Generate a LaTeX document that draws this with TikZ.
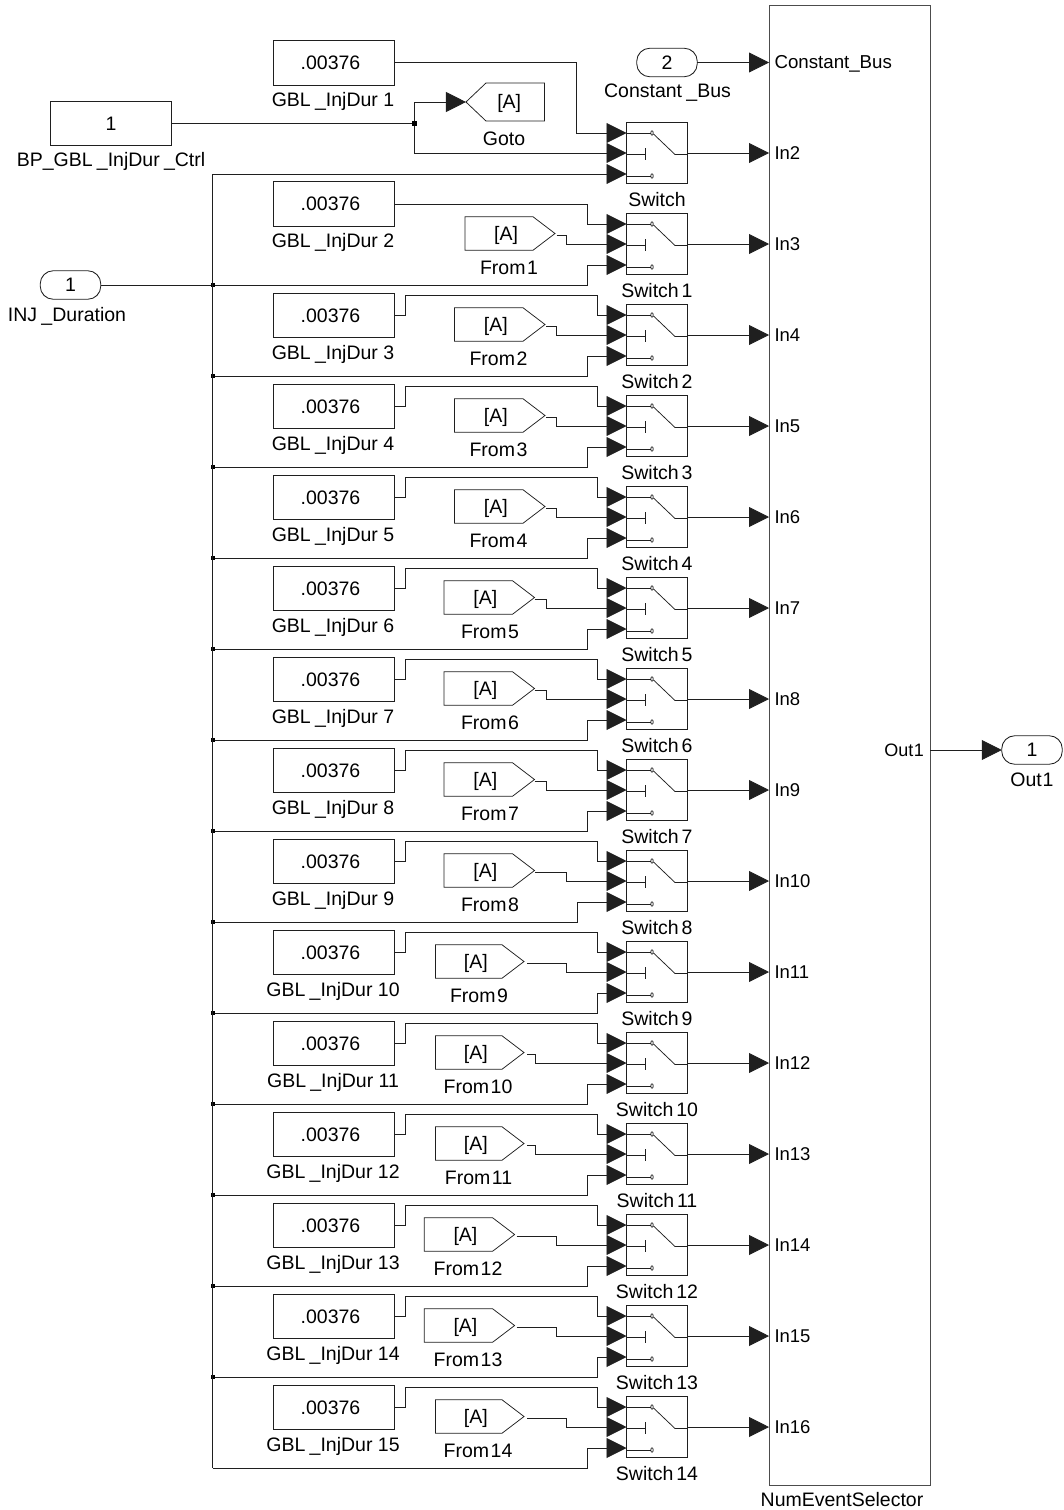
\documentclass[tikz,border=0pt]{standalone}
\usepackage{fontspec}
\setmainfont{Liberation Sans}
\usetikzlibrary{arrows.meta,calc}
\definecolor{ink}{gray}{0.12}
\newcommand{\fsz}[1]{\fontsize{#1}{#1}\selectfont}
\newcommand{\us}{\kern.22em\_}
\newcommand{\tagA}{\raisebox{-6.8pt}[0pt][0pt]{[A]}}
\tikzset{
  wire/.style={draw=ink,line width=0.85pt},
  arr/.style={-{Triangle[length=20pt,width=20pt,sep=0pt]}},
  thinw/.style={draw=ink,line width=0.75pt},
  blockbox/.style={draw=ink,line width=0.85pt,inner sep=0pt,outer sep=0pt,font=\fsz{19.5},align=center},
  constbox/.style={blockbox,minimum width=121.7pt,minimum height=44.6pt},
  switchbox/.style={blockbox,minimum width=61pt,minimum height=61pt},
  fromtext/.style={inner sep=0pt,outer sep=0pt,font=\fsz{19.5},minimum height=33.5pt},
  portbox/.style={blockbox,rounded corners=13pt,minimum width=60.5pt,minimum height=28.5pt},
  lbl/.style={inner sep=0pt,outer sep=0pt,font=\fsz{19.5},anchor=base},
  portlbl/.style={inner sep=0pt,outer sep=0pt,font=\fsz{18.5},anchor=base west},
  dot/.style={fill=black,draw=none,inner sep=0pt,outer sep=0pt,minimum size=4.2pt,rectangle},
}
% #1 index, #2 centre y, #3 label of the switch, #4 input name
\newcommand{\swrow}[4]{
  \node[switchbox] (sw#1) at (657,#2) {};
  \coordinate (sw#1a) at (sw#1.west |- 0,#2-20);
  \coordinate (sw#1b) at (sw#1.west |- 0,#2);
  \coordinate (sw#1c) at (sw#1.west |- 0,#2+21);
  \draw[thinw] (sw#1a) -- (651,#2-20);
  \draw[thinw] (652,#2-20) ellipse[x radius=1.2pt,y radius=2.2pt];
  \draw[thinw] (626.5,#2+1) -- (645,#2+1) (645,#2-5) -- (645,#2+7);
  \draw[thinw] (626.5,#2+23) -- (651,#2+23);
  \draw[thinw] (652,#2+23) ellipse[x radius=1.2pt,y radius=2.2pt];
  \draw[thinw] (653.5,#2-19) -- (675,#2+1.5) -- (sw#1.east |- 0,#2+1.5);
  \node[lbl] (swl#1) at (657,#2+53) {#3};
  \coordinate (pin#1) at (nes.west |- 0,#2);
  \draw[wire,arr] (sw#1.east) -- (pin#1);
  \node[portlbl] (inl#1) at (774.5,#2+6) {#4};
}
\begin{document}
\begin{tikzpicture}[x=1pt,y=-1pt]
\useasboundingbox (0,0) rectangle (1063,1510);
% main block
\node[blockbox,draw=black!70,minimum width=161pt,minimum height=1479.5pt] (nes) at (849.5,745.25) {};
\node[lbl] (nesl) at (842,1506) {NumEventSelector};
% constant bus port
\node[portbox] (pb) at (667,62.5) {2};
\node[lbl] (pbl) at (667.5,97.7) {Constant\us Bus};
\coordinate (pinbus) at (nes.west |- pb.east);
\draw[wire,arr] (pb.east) -- (pinbus);
\node[portlbl,font=\fsz{18.7}] (inbus) at (774.5,68) {Constant\_Bus};
% control constant and goto
\node[constbox] (bp) at (111,123.5) {1};
\node[lbl] (bpl) at (111,166.7) {BP\_GBL\us InjDur\us Ctrl};
\node[fromtext,minimum width=78.5pt,minimum height=38pt] (goto) at (505.2,102) {\hspace*{8pt}\tagA};
\draw[thinw] (goto.west) -- (486,83) -- (goto.north east) -- (goto.south east) -- (486,121) -- cycle;
\node[lbl] (gotol) at (504,145.7) {Goto};
\node[dot] (jg) at (414.5,123.5) {};
% input port
\node[portbox] (inj) at (70.5,285) {1};
\node[lbl] (injl) at (67,321.7) {INJ\us Duration};
% output port
\node[portbox] (outp) at (1032,750) {1};
\node[lbl] (outl) at (1032,786.7) {Out\kern.04em1};
\node[inner sep=0pt,outer sep=0pt,font=\fsz{18},anchor=base east] (nesout) at (924,756) {Out\kern.04em1};
\draw[wire,arr] (nes.east |- outp.west) -- (outp.west);
% first switch
\swrow{0}{153}{Switch}{In2}
\node[constbox] (c0) at (334,62.7) {\hspace*{-7pt}.00376};
\node[lbl] (cl0) at (333,106) {GBL\us InjDur 1};
\coordinate (b0) at (212.7,174);
\draw[wire,arr] (c0.east) -| (576,133) -- (sw0a);
\draw[wire] (bp.east) -- (jg);
\draw[wire,arr] (jg) |- (goto.west);
\draw[wire,arr] (jg) |- (sw0b);
\draw[wire,arr] (b0) -- (sw0c);
% the fourteen other rows: index / from left / from tip / elbow / from-label x / bottom x / gap
\foreach \i/\fl/\ft/\fe/\fx/\bx/\g in {
  1/465/555/566/509/587/1.5,
  2/454.5/545/556.5/498.5/587/1,
  3/454.5/545/556.5/498.5/587/1,
  4/454.5/545/556.5/498.5/587/1,
  5/444/534.5/546/490/587/0,
  6/444/534.5/546/490/587/0,
  7/444/534.5/546/490/587/0,
  8/444/534.5/566/490/577/0.5,
  9/435.5/524/566/479/597/3,
  10/435.5/524/535.7/478/587/3,
  11/435.5/524/535.7/478.5/587/3,
  12/424.3/514.6/556.7/468/587/2,
  13/424.3/514.6/556.7/468/597/2,
  14/435.5/524/566/478/587/3}{
  \pgfmathtruncatemacro{\cy}{153+91*\i}
  \pgfmathtruncatemacro{\j}{\i+1}
  \pgfmathtruncatemacro{\ii}{\i+2}
  \pgfmathsetmacro{\cc}{\i==1 ? 204 : \cy-19.5}
  \pgfmathsetmacro{\fw}{\ft-\fl}
  \pgfmathsetmacro{\fc}{(\ft+\fl)/2}
  \pgfmathsetmacro{\bev}{\ft-22}
  \pgfmathsetmacro{\fy}{\cy-10.5}
  \swrow{\i}{\cy}{Switch\kern.15em\i}{In\ii}
  % constant
  \node[constbox] (c\i) at (334,\cc) {\hspace*{-7pt}.00376};
  \node[lbl] (cl\i) at (333,\cc+43.5) {GBL\us InjDur \j};
  % from block
  \node[fromtext,minimum width=\fw pt] (f\i) at (\fc,\fy) {\hspace*{-8pt}\tagA};
  \draw[thinw] (f\i.north west) -- (\bev,\fy-16.75) -- (f\i.east) -- (\bev,\fy+16.75) -- (f\i.south west) -- cycle;
  \node[lbl] (fl\i) at (\fx,\cy+30) {From\kern.08em\i};
  % bus tap
  \coordinate (b\i) at (212.7,\cy+41);
  \draw[wire,arr] (b\i) -| (\bx,\cy+21) -- (sw\i c);
  % from wire
  \draw[wire,arr] ([xshift=\g pt,yshift=-1.5pt]f\i.east) -| (\fe,\cy) -- (sw\i b);
  % constant wire
  \ifnum\i=1
    \draw[wire,arr] (c\i.east) -| (587,224) -- (sw\i a);
  \else
    \draw[wire,arr] (c\i.east) -- ++(10.3,0) |- (597,\cy-40) |- (sw\i a);
  \fi
  \ifnum\i<14
    \node[dot] (j\i) at (b\i) {};
  \fi
}
% bus and input
\draw[wire] (b0) -- (b14);
\draw[wire] (inj.east) -- (j1);
\end{tikzpicture}
\end{document}
